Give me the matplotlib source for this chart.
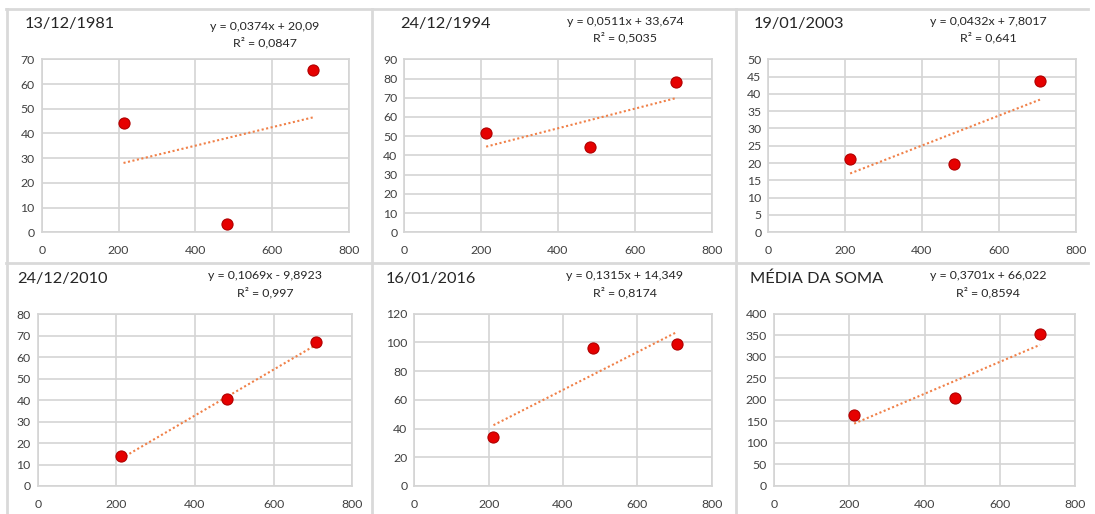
import matplotlib
matplotlib.use("Agg")
import matplotlib.pyplot as plt
from matplotlib.lines import Line2D

plt.rcParams['font.family'] = ['Lato', 'DejaVu Sans']

# Shared x positions of the three stations
x_vals = [213, 482, 707]

titles = ["13/12/1981", "24/12/1994", "19/01/2003",
          "24/12/2010", "16/01/2016", "MÉDIA DA SOMA"]

y_1981 = [44.4, 3.2, 65.7]
y_1994 = [51.7, 44.2, 78.0]
y_2003 = [21.3, 19.6, 43.6]
y_2010 = [13.9, 40.4, 67.2]
y_2016 = [34.4, 96.1, 98.7]
y_media = [165.6, 204.3, 352.8]
series = [y_1981, y_1994, y_2003, y_2010, y_2016, y_media]

# Trendline coefficients (slope, intercept) and R² as labelled
slopes = [0.0374, 0.0511, 0.0432, 0.1069, 0.1315, 0.3701]
intercepts = [20.09, 33.674, 7.8017, -9.8923, 14.349, 66.022]
eq_labels = ["y = 0,0374x + 20,09", "y = 0,0511x + 33,674",
             "y = 0,0432x + 7,8017", "y = 0,1069x - 9,8923",
             "y = 0,1315x + 14,349", "y = 0,3701x + 66,022"]
r2_labels = ["R² = 0,0847", "R² = 0,5035", "R² = 0,641",
             "R² = 0,997", "R² = 0,8174", "R² = 0,8594"]

y_max = [70, 90, 50, 80, 120, 400]
y_step = [10, 10, 5, 10, 20, 50]
x_ticks = [0, 200, 400, 600, 800]

W, H = 1095, 514
fig = plt.figure(figsize=(W / 100, H / 100), dpi=100)
fig.patch.set_facecolor("white")

# Plot-area boxes in pixels: (x_left, x_right, y_top, y_bottom)
areas = [(41.7, 349.0, 59.3, 232.3), (404.3, 711.7, 59.3, 232.3),
         (768.3, 1075.7, 59.3, 232.3), (37.7, 352.3, 314.3, 486.0),
         (414.3, 711.7, 313.7, 486.0), (774.0, 1075.0, 313.7, 486.0)]
title_pos = [(25, 24), (400, 24), (754, 24), (17, 279), (386, 279), (750, 279)]
eq_pos = [(265, 27, 43), (625, 21.7, 37.7), (988, 21.7, 37.7),
          (265, 275.7, 292.3), (625, 275.7, 292.3), (988, 275.7, 292.3)]

grid_c = "#d4d4d4"
text_c = "#404040"

for i in range(6):
    xl, xr, yt, yb = areas[i]
    ax = fig.add_axes([xl / W, 1 - yb / H, (xr - xl) / W, (yb - yt) / H])
    ax.set_xlim(0, 800)
    ax.set_ylim(0, y_max[i])
    ax.set_xticks(x_ticks)
    ax.set_yticks(range(0, y_max[i] + 1, y_step[i]))
    ax.grid(True, color=grid_c, linewidth=1.2)
    ax.set_axisbelow(True)
    for s in ax.spines.values():
        s.set_color(grid_c)
        s.set_linewidth(1.2)
    ax.tick_params(length=0, labelsize=8.8, colors=text_c, pad=5)
    ax.tick_params(axis="x", pad=9)

    # Trendline over the data range from the stated equation
    x0, x1 = min(x_vals), max(x_vals)
    ax.plot([x0, x1], [slopes[i] * x0 + intercepts[i], slopes[i] * x1 + intercepts[i]],
            color="#F08048", linewidth=1.5, linestyle=(0, (1, 1.2)), zorder=2)
    ax.scatter(x_vals, series[i], s=64, facecolor="#e60000", edgecolor="#b00000",
               linewidth=0.8, zorder=3, clip_on=False)

    tx, ty = title_pos[i]
    fig.text(tx / W, 1 - ty / H, titles[i], fontsize=11.8, color="#262626",
             ha="left", va="center")
    ex, e1, e2 = eq_pos[i]
    fig.text(ex / W, 1 - e1 / H, eq_labels[i], fontsize=8.9, color="#262626",
             ha="center", va="center")
    fig.text(ex / W, 1 - e2 / H, r2_labels[i], fontsize=8.9, color="#262626",
             ha="center", va="center")

# Chart object borders
border_c = "#d9d9d9"
def hline(y, xa, xb):
    fig.add_artist(Line2D([xa / W, xb / W], [1 - y / H, 1 - y / H],
                          color=border_c, linewidth=2))
def vline(x, ya, yb):
    fig.add_artist(Line2D([x / W, x / W], [1 - ya / H, 1 - yb / H],
                          color=border_c, linewidth=2))

hline(9, 6, 1088)
hline(263, 6, 1088)
vline(7, 9, 514)
vline(372, 9, 514)
vline(736, 9, 514)

fig.savefig("out.png", dpi=100, facecolor="white")
